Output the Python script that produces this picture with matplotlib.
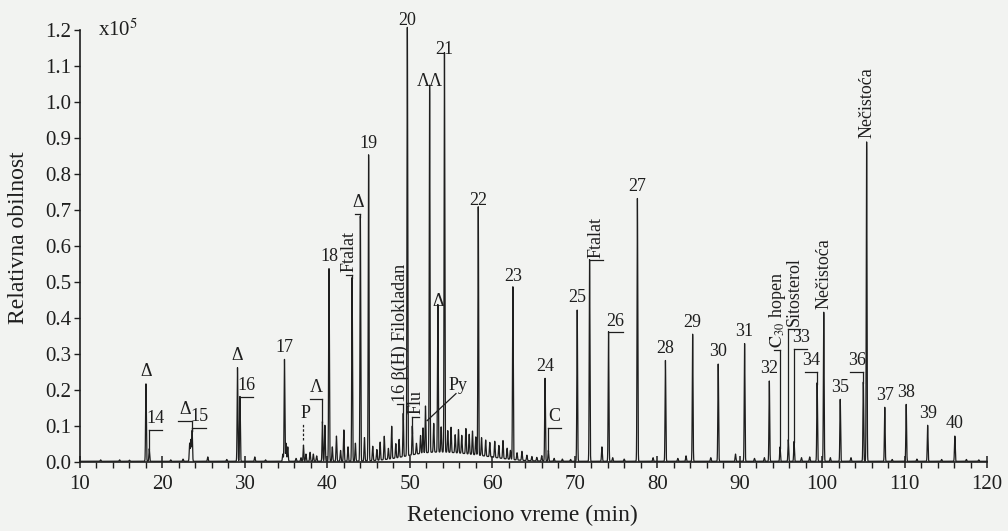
import numpy as np
import matplotlib
matplotlib.use("Agg")
import matplotlib.pyplot as plt
from matplotlib.ticker import MultipleLocator, FormatStrFormatter

plt.rcParams["font.family"] = ["Liberation Serif", "DejaVu Serif"]
plt.rcParams["mathtext.fontset"] = "stix"

# main peaks: retention time (min), relative abundance (x10^5), label written on top ("" = none)
peak_times = [18.0, 18.4, 23.6, 29.1, 29.4, 34.8, 37.1, 39.4, 40.2, 43.0, 44.0, 45.0,
              49.2, 49.7, 50.3, 51.9, 52.4, 53.4, 54.2, 58.3, 62.5, 66.4, 66.8, 70.3,
              71.8, 74.1, 77.6, 81.0, 84.3, 87.4, 90.6, 93.6, 94.9, 95.9, 96.6, 99.4,
              100.2, 102.2, 105.0, 105.4, 107.6, 110.2, 112.8, 116.1]
peak_heights = [0.215, 0.035, 0.085, 0.26, 0.18, 0.283, 0.045, 0.11, 0.535, 0.51, 0.68, 0.85,
                0.12, 1.19, 0.08, 0.13, 1.02, 0.41, 1.11, 0.69, 0.48, 0.23, 0.03, 0.42,
                0.56, 0.36, 0.73, 0.28, 0.353, 0.27, 0.327, 0.223, 0.04, 0.06, 0.055, 0.218,
                0.414, 0.172, 0.22, 0.887, 0.15, 0.158, 0.10, 0.07]
peak_labels = ["Δ", "", "", "Δ", "", "17", "", "", "18", "", "", "19",
               "", "20", "", "", "ΛΛ", "Δ", "21", "22", "23", "24", "", "25",
               "", "", "27", "28", "29", "30", "31", "32", "", "", "", "",
               "Nečistoća", "35", "", "Nečistoća", "37", "38", "39", "40"]

# small peaks making up the noisy baseline
minor_times = [12.5, 14.8, 16.0, 21.0, 22.5, 23.3, 23.45, 25.5, 27.8, 31.2, 32.5, 34.6,
               35.0, 35.2, 36.2, 36.8, 37.4, 37.9, 38.3, 38.7, 39.7, 40.6, 41.1, 41.6,
               42.0, 42.5, 43.4, 44.5, 45.5, 46.0, 46.4, 46.9, 47.4, 47.8, 48.3, 48.7,
               50.8, 51.3, 51.6, 52.9, 53.8, 54.6, 55.0, 55.5, 55.9, 56.3, 56.8, 57.2,
               57.6, 58.0, 58.7, 59.2, 59.7, 60.3, 60.8, 61.3, 61.8, 62.2, 63.0, 63.6,
               64.2, 64.8, 65.4, 66.0, 67.5, 68.5, 69.5, 73.3, 74.6, 76.0, 79.5, 82.5,
               83.5, 86.5, 89.5, 91.8, 93.0, 97.5, 98.5, 101.0, 103.5, 108.5, 111.5,
               114.5, 117.5, 119.0]
minor_heights = [0.004, 0.004, 0.003, 0.004, 0.006, 0.05, 0.06, 0.012, 0.005, 0.012, 0.004, 0.02,
                 0.05, 0.04, 0.008, 0.01, 0.02, 0.025, 0.02, 0.015, 0.1, 0.04, 0.07, 0.03,
                 0.087, 0.04, 0.05, 0.065, 0.04, 0.03, 0.05, 0.065, 0.03, 0.09, 0.04, 0.05,
                 0.03, 0.05, 0.07, 0.08, 0.07, 0.06, 0.07, 0.05, 0.065, 0.05, 0.07, 0.055,
                 0.065, 0.05, 0.05, 0.045, 0.04, 0.045, 0.035, 0.05, 0.03, 0.025, 0.02, 0.025,
                 0.015, 0.012, 0.01, 0.015, 0.008, 0.006, 0.005, 0.04, 0.01, 0.006, 0.01, 0.008,
                 0.015, 0.01, 0.02, 0.008, 0.01, 0.01, 0.012, 0.01, 0.01, 0.005, 0.006,
                 0.005, 0.005, 0.004]

# unresolved hump under the middle of the run
hump_times = [52.0, 57.0]
hump_heights = [0.018, 0.016]
hump_widths = [3.0, 3.5]

# bracketed labels: text, peak time, bracket level, bracket end time, rotation
brackets = [
    ("14", 18.4, 0.09, 20.0, 0),
    ("Δ", 23.6, 0.113, 21.9, 0),
    ("15", 23.6, 0.094, 25.3, 0),
    ("16", 29.4, 0.18, 31.0, 0),
    ("Λ", 39.4, 0.175, 37.9, 0),
    ("Ftalat", 43.0, 0.52, 42.3, 90),
    ("Δ", 44.0, 0.69, 43.4, 0),
    ("16 β(H) Filokladan", 49.2, 0.16, 48.4, 90),
    ("Flu", 50.3, 0.125, 51.1, 90),
    ("C", 66.8, 0.094, 68.3, 0),
    ("Ftalat", 71.8, 0.56, 73.4, 90),
    ("26", 74.1, 0.36, 75.8, 0),
    (r"$\mathrm{C_{30}}$ hopen", 94.9, 0.31, 94.2, 90),
    ("Sitosterol", 95.9, 0.37, 97.3, 90),
    ("33", 96.6, 0.315, 98.2, 0),
    ("34", 99.4, 0.25, 97.9, 0),
    ("36", 105.0, 0.25, 103.4, 0),
]

x_ticks = list(range(10, 121, 10))
y_ticks = [0.0, 0.1, 0.2, 0.3, 0.4, 0.5, 0.6, 0.7, 0.8, 0.9, 1.0, 1.1, 1.2]

bg = "#f2f3f1"
ink = "#1e1e1e"

t = np.linspace(10, 120, 22001)
signal = np.full_like(t, 0.002)
for c, h in zip(peak_times, peak_heights):
    signal += h * np.exp(-0.5 * ((t - c) / 0.045) ** 2)
for c, h in zip(minor_times, minor_heights):
    signal += h * np.exp(-0.5 * ((t - c) / 0.05) ** 2)
for c, h, w in zip(hump_times, hump_heights, hump_widths):
    signal += h * np.exp(-0.5 * ((t - c) / w) ** 2)

fig = plt.figure(figsize=(10.08, 5.31), dpi=100, facecolor=bg)
ax = fig.add_axes([80 / 1008, 1 - 462 / 531, 907 / 1008, 432 / 531])
ax.set_facecolor(bg)

ax.plot(t, signal, color=ink, lw=0.9, clip_on=False, zorder=3)

ax.set_xlim(10, 120)
ax.set_ylim(0, 1.2)
ax.set_xticks(x_ticks)
ax.set_yticks(y_ticks)
ax.xaxis.set_minor_locator(MultipleLocator(2))
ax.yaxis.set_major_formatter(FormatStrFormatter("%.1f"))
for s in ["top", "right"]:
    ax.spines[s].set_visible(False)
for s in ["left", "bottom"]:
    ax.spines[s].set_color(ink)
    ax.spines[s].set_linewidth(1.2)
ax.tick_params(axis="x", which="major", direction="inout", length=9, width=1.1,
               colors=ink, labelsize=15, pad=5)
ax.tick_params(axis="x", which="minor", direction="out", length=4, width=1.0, colors=ink)
ax.tick_params(axis="y", which="major", direction="out", length=4, width=1.0,
               colors=ink, labelsize=15, pad=2)

ax.set_xlabel("Retenciono vreme (min)", fontsize=17, color=ink)
ax.set_ylabel("Relativna obilnost", fontsize=17, color=ink)
ax.xaxis.set_label_coords(0.488, -0.10)
ax.yaxis.set_label_coords(-0.056, 0.52)

ax.text(12.2, 1.2, r"x10$^{5}$", fontsize=15, color=ink, va="center", ha="left")

lab = dict(fontsize=13, color=ink, clip_on=False)

# labels sitting on top of peaks
for c, h, name in zip(peak_times, peak_heights, peak_labels):
    if not name:
        continue
    rot = 90 if len(name) > 3 else 0
    ax.text(c, h + 0.012, name, ha="center", va="bottom", rotation=rot, **lab)

# bracketed labels
for name, c, level, end, rot in brackets:
    h = peak_heights[peak_times.index(c)]
    if level > h:
        ax.plot([c, c], [h, level], color=ink, lw=0.9)
    ax.plot([c, end], [level, level], color=ink, lw=0.9)
    ax.text((c + end) / 2, level + 0.008, name, ha="center", va="bottom",
            rotation=rot, **lab)

# P with dashed leader, Py with a pointer line
ax.plot([37.1, 37.1], [0.06, 0.105], color=ink, lw=0.9, ls=(0, (2, 1.5)))
ax.text(37.4, 0.11, "P", ha="center", va="bottom", **lab)
ax.plot([52.1, 55.6], [0.115, 0.19], color=ink, lw=0.9)
ax.text(55.9, 0.19, "Py", ha="center", va="bottom", **lab)

fig.savefig("out.png", dpi=100, facecolor=bg)
